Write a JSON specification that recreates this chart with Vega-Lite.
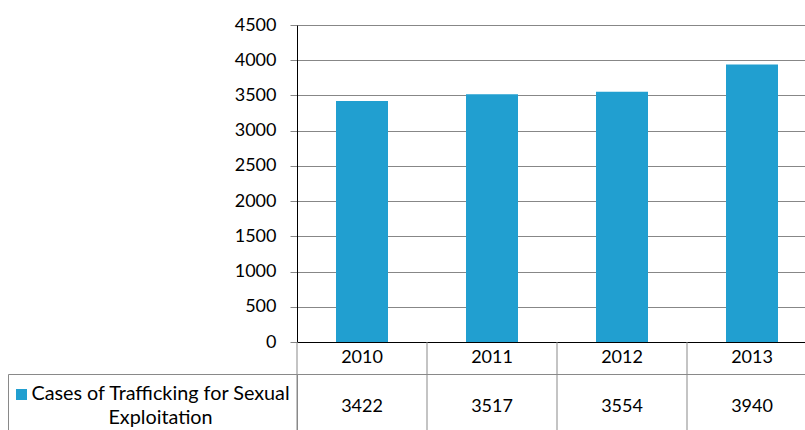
{
  "$schema": "https://vega.github.io/schema/vega-lite/v6.json",
  "padding": {"left": 7, "top": 16, "right": 0, "bottom": 0},
  "config": {"view": {"stroke": null}, "font": "Lato", "text": {"font": "Lato"}, "axis": {"labelFont": "Lato"}},
  "datasets": {
    "cases": [
      {"year": "2010", "cases": 3422, "series": "Cases of Trafficking for Sexual Exploitation"},
      {"year": "2011", "cases": 3517, "series": "Cases of Trafficking for Sexual Exploitation"},
      {"year": "2012", "cases": 3554, "series": "Cases of Trafficking for Sexual Exploitation"},
      {"year": "2013", "cases": 3940, "series": "Cases of Trafficking for Sexual Exploitation"}
    ],
    "label": [
      {"label": "Cases of Trafficking for Sexual\nExploitation"}
    ]
  },
  "columns": 2,
  "spacing": 0,
  "bounds": "flush",
  "align": "each",
  "concat": [
    {
      "width": 289, "height": 317,
      "data": {"values": []},
      "mark": {"type": "text"},
      "encoding": {}
    },
    {
      "width": 520, "height": 317,
      "data": {"name": "cases"},
      "mark": {"type": "bar", "color": "#219FD0"},
      "encoding": {
        "x": {"field": "year", "type": "ordinal", "scale": {"paddingInner": 0.6, "paddingOuter": 0.3},
              "axis": {"title": null, "labels": false, "ticks": false, "domainColor": "#000000", "domainWidth": 1}},
        "y": {"field": "cases", "type": "quantitative", "scale": {"domain": [0, 4500]},
              "axis": {"title": null, "values": [0, 500, 1000, 1500, 2000, 2500, 3000, 3500, 4000, 4500], "format": "d",
                       "domainColor": "#000000", "gridColor": "#878787", "gridOpacity": 1, "tickColor": "#878787",
                       "tickSize": 7, "labelFontSize": 18, "labelColor": "#000000", "labelPadding": 14}},
        "color": {"field": "series", "type": "nominal", "scale": {"range": ["#219FD0"]},
                  "legend": {"orient": "none", "legendX": 8, "legendY": 364, "title": null, "labelExpr": "''",
                             "symbolType": "square", "symbolSize": 121, "symbolStrokeWidth": 0, "symbolOpacity": 1}}
      }
    },
    {
      "width": 289, "height": 32,
      "data": {"values": []},
      "mark": {"type": "text"},
      "encoding": {}
    },
    {
      "width": 520, "height": 32,
      "data": {"name": "cases"},
      "layer": [
        {
          "mark": {"type": "rule", "color": "#898989", "strokeWidth": 1},
          "encoding": {
            "x": {"field": "year", "type": "ordinal", "bandPosition": 0,
                  "scale": {"type": "band", "paddingInner": 0, "paddingOuter": 0}, "axis": null}
          }
        },
        {
          "mark": {"type": "text", "fontSize": 18, "baseline": "middle", "color": "#000000"},
          "encoding": {
            "x": {"field": "year", "type": "ordinal", "axis": null},
            "text": {"field": "year"}
          }
        }
      ]
    },
    {
      "width": 289, "height": 65,
      "view": {"stroke": "#898989", "strokeWidth": 1},
      "data": {"name": "label"},
      "mark": {"type": "text", "fontSize": 19.8, "lineHeight": 24, "lineBreak": "\n", "baseline": "middle", "align": "center", "dx": 8, "dy": -13, "color": "#000000"},
      "encoding": {"text": {"field": "label"}}
    },
    {
      "width": 520, "height": 65,
      "view": {"stroke": "#898989", "strokeWidth": 1},
      "data": {"name": "cases"},
      "layer": [
        {
          "mark": {"type": "rule", "color": "#898989", "strokeWidth": 1},
          "encoding": {
            "x": {"field": "year", "type": "ordinal", "bandPosition": 0,
                  "scale": {"type": "band", "paddingInner": 0, "paddingOuter": 0}, "axis": null}
          }
        },
        {
          "mark": {"type": "text", "fontSize": 18, "baseline": "middle", "color": "#000000"},
          "encoding": {
            "x": {"field": "year", "type": "ordinal", "axis": null},
            "text": {"field": "cases", "type": "quantitative", "format": "d"}
          }
        }
      ]
    }
  ]
}
